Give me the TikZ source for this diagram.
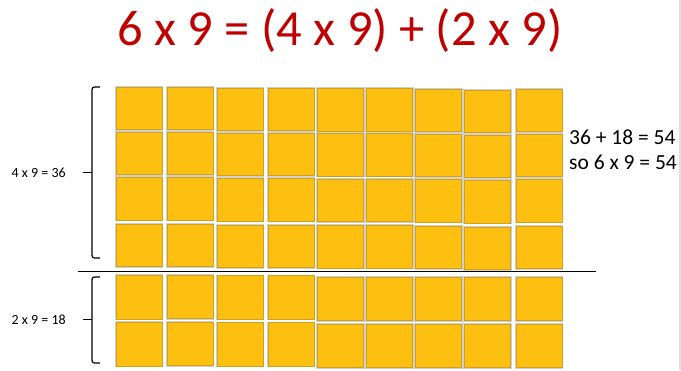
\documentclass[tikz,border=0pt]{standalone}
\usepackage{fontspec}
\setmainfont{Carlito}
\definecolor{titlered}{HTML}{C00000}
\definecolor{tile}{HTML}{FDC010}
\definecolor{tileedge}{HTML}{CFA11C}
\begin{document}
\begin{tikzpicture}[x=1pt,y=-1pt,
  sq/.style={draw=tileedge, fill=tile, line width=0.8pt, minimum width=46.2pt,
    minimum height=42.8pt, inner sep=0pt, outer sep=0pt, anchor=north west,
    preaction={draw=black!18, line width=2.4pt}},
  sqb/.style={sq, minimum height=43.5pt},
  bracepath/.style={line width=1.2pt, rounded corners=2.5pt},
  lbl/.style={inner sep=0pt, font=\fontsize{14}{16}\selectfont, anchor=base west},
  rtxt/.style={inner sep=0pt, font=\fontsize{21.5}{25}\selectfont, anchor=base west}]
\useasboundingbox (0,0) rectangle (681,370);
\fill[black!12] (679,0) rectangle (681,370);
% title
\node[anchor=base, text=titlered, font=\fontsize{50.5}{56}\selectfont, inner sep=0pt] (title) at (340,45) {6 x 9 = (4 x 9) + (2 x 9)};
% tiles
\foreach \c/\x/\o/\p in {1/115.5/0/0, 2/166.5/0/-0.5, 3/216.5/1/0.3, 4/267.5/1/0.3, 5/317/1.5/1.5, 6/366/1.5/1.5, 7/415/2/1.5, 8/464/3/1.5, 9/515.5/2/1.5}{
  \foreach \r/\y in {1/86.5, 2/131.5, 3/177, 4/223.5}{
    \node[sq] (t\c-\r) at (\x+0.4, \y+\o+0.4) {};
  }
  \foreach \r/\y in {1/275, 2/322}{
    \node[sqb] (b\c-\r) at (\x+0.4, \y+\p+0.4) {};
  }
}
% divider
\coordinate (dl) at (78,271.5);
\coordinate (dr) at (596,271.5);
\draw[line width=1.4pt] (dl) -- (dr);
% braces
\draw[bracepath] (100,87) -- (92,87) -- (92,258) -- (100,258);
\draw[line width=1.2pt] (83,172.7) -- (92,172.7);
\draw[bracepath] (100,277) -- (92,277) -- (92,363) -- (100,363);
\draw[line width=1.2pt] (83,319.5) -- (92,319.5);
% labels
\node[lbl] (l1) at (11.5,177.3) {4 x 9 = 36};
\node[lbl] (l2) at (11.5,324) {2 x 9 = 18};
\node[rtxt] (r1) at (569,144.3) {36 + 18 = 54};
\node[rtxt] (r2) at (569,169) {so 6 x 9 = 54};
\end{tikzpicture}
\end{document}
